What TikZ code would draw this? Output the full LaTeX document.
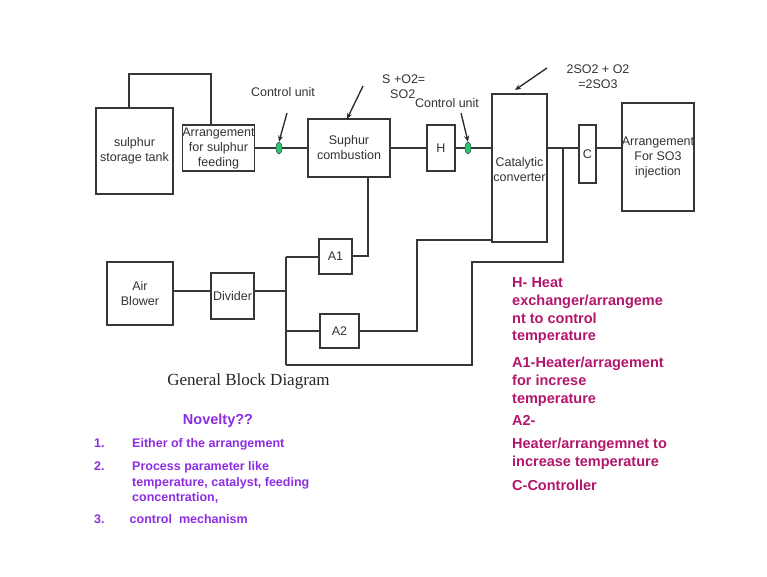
\documentclass[tikz,border=0pt]{standalone}
\usepackage{fontspec}
\setmainfont{Liberation Sans}
\newfontfamily\serifface{Liberation Serif}
\usetikzlibrary{arrows.meta}
\definecolor{lineclr}{RGB}{55,55,55}
\definecolor{pinktxt}{RGB}{178,22,108}
\definecolor{purptxt}{RGB}{140,45,225}
\definecolor{valveclr}{RGB}{40,200,110}
\tikzset{
  blk/.style={draw=lineclr, line width=1.4pt, inner sep=0pt, align=center,
    font=\fontsize{12.5}{15}\selectfont, text=black!80},
  wire/.style={draw=lineclr, line width=1.4pt},
  pointer/.style={draw=black!85, line width=1.3pt, -{Stealth[length=6pt,width=5pt]}},
  valve/.style={draw=black!70, fill=valveclr, ellipse, line width=0.6pt, minimum width=6pt, minimum height=12pt, inner sep=0pt},
  lbl/.style={font=\fontsize{12.5}{15}\selectfont, text=black!80, align=center, inner sep=0pt},
  pinkline/.style={font=\bfseries\fontsize{14.5}{18}\selectfont, text=pinktxt, anchor=base west, inner sep=0pt},
  purpline/.style={font=\bfseries\fontsize{12.5}{15.5}\selectfont, text=purptxt, anchor=base west, inner sep=0pt}
}
\usetikzlibrary{shapes.geometric}
\begin{document}
\begin{tikzpicture}[x=1pt,y=-1pt]
\useasboundingbox (0,0) rectangle (767,577);
% blocks
\node[blk, minimum width=77pt, minimum height=86pt] (tank) at (134.5,151) {sulphur\\storage tank};
\node[blk, minimum width=71pt, minimum height=46pt] (feed) at (218.5,148) {Arrangement\\for sulphur\\feeding};
\node[blk, minimum width=82pt, minimum height=58pt] (comb) at (349,148) {Suphur\\combustion};
\node[blk, minimum width=28pt, minimum height=46pt] (H) at (441,148) {H};
\node[blk, minimum width=55pt, minimum height=148pt] (cat) at (519.5,168) {};
\node[lbl] (catl) at (519.5,169.5) {Catalytic\\converter};
\node[blk, minimum width=17pt, minimum height=58pt] (C) at (587.5,154) {C};
\node[blk, minimum width=70pt, minimum height=108pt] (inj) at (658,157) {Arrangement\\For SO3\\injection};
\node[blk, minimum width=66pt, minimum height=63pt] (blow) at (140,293.5) {Air\\Blower};
\node[blk, minimum width=43pt, minimum height=46pt] (div) at (232.5,296) {Divider};
\node[blk, minimum width=33pt, minimum height=35pt] (A1) at (335.5,256.5) {A1};
\node[blk, minimum width=39pt, minimum height=34pt] (A2) at (339.5,331) {A2};
% valves
\node[valve] (v1) at (279,148) {};
\node[valve] (v2) at (468,148) {};
% coordinates
\coordinate (lt1) at (129,74);
\coordinate (lt2) at (211,74);
\coordinate (busT) at (286,257);
\coordinate (busM) at (286,291);
\coordinate (busA2) at (286,331);
\coordinate (busB) at (286,365);
\coordinate (a1r) at (368,256);
\coordinate (a2r) at (417,331);
\coordinate (a2u) at (417,240);
\coordinate (tap) at (563,148);
\coordinate (tapd) at (563,262);
\coordinate (tapl) at (472,262);
\coordinate (tapb) at (472,365);
% wires
\draw[wire] (tank.north -| lt1) |- (lt2) -- (feed.north -| lt2);
\draw[wire] (feed.east) -- (v1.west);
\draw[wire] (v1.east) -- (comb.west);
\draw[wire] (comb.east) -- (H.west);
\draw[wire] (H.east) -- (v2.west);
\draw[wire] (v2.east) -- (cat.west |- v2.east);
\draw[wire] (cat.east |- tap) -- (C.west |- tap);
\draw[wire] (C.east |- tap) -- (inj.west |- tap);
\draw[wire] (blow.east |- busM) -- (div.west |- busM);
\draw[wire] (div.east |- busM) -- (busM);
\draw[wire] (busT) -- (busB);
\draw[wire] (busT) -- (A1.west |- busT);
\draw[wire] (A1.east |- a1r) -- (a1r) -- (comb.south -| a1r);
\draw[wire] (busA2) -- (A2.west |- busA2);
\draw[wire] (A2.east |- a2r) -- (a2r) -- (a2u) -- (cat.west |- a2u);
\draw[wire] (tap) -- (tapd) -- (tapl) -- (tapb) -- (busB);
% pointers and labels
\node[lbl] (cu1) at (283,92) {Control unit};
\coordinate (p1s) at (287,113);
\draw[pointer] (p1s) -- (v1.north);
\node[lbl, align=left, anchor=west] (eq1) at (382,86.5) {S +O2=\\\hspace*{8pt}SO2};
\coordinate (p2s) at (363,86);
\draw[pointer] (p2s) -- (347,119);
\node[lbl] (cu2) at (447,103) {Control unit};
\coordinate (p3s) at (461,113);
\draw[pointer] (p3s) -- (v2.north);
\node[lbl] (eq2) at (598,77) {2SO2 + O2\\=2SO3};
\coordinate (p4s) at (547,68);
\draw[pointer] (p4s) -- (515,90);
% caption
\node[font=\serifface\fontsize{17}{20}\selectfont, text=black!85, inner sep=0pt] (cap) at (248.5,381) {General Block Diagram};
% legend
\node[pinkline] (h1) at (512,287) {H- Heat};
\node[pinkline] (h2) at (512,305) {exchanger/arrangeme};
\node[pinkline] (h3) at (512,323) {nt to control};
\node[pinkline] (h4) at (512,340.5) {temperature};
\node[pinkline] (a11) at (512,367) {A1-Heater/arragement};
\node[pinkline] (a12) at (512,385) {for increse};
\node[pinkline] (a13) at (512,403) {temperature};
\node[pinkline] (a21) at (512,425) {A2-};
\node[pinkline] (a22) at (512,448) {Heater/arrangemnet to};
\node[pinkline] (a23) at (512,466.5) {increase temperature};
\node[pinkline] (c1) at (512,490) {C-Controller};
% novelty
\node[font=\bfseries\fontsize{14.5}{17}\selectfont, text=purptxt, inner sep=0pt, anchor=base] (nov) at (218,424) {Novelty??};
\node[purpline] (n1) at (94,447) {1.};
\node[purpline] (t1) at (132,447) {Either of the arrangement};
\node[purpline] (n2) at (94,470.5) {2.};
\node[purpline] (t2) at (132,470.5) {Process parameter like};
\node[purpline] (t2b) at (132,486) {temperature, catalyst, feeding};
\node[purpline] (t2c) at (132,501.5) {concentration,};
\node[purpline] (n3) at (94,523.5) {3.};
\node[purpline] (t3) at (129.5,523.5) {control\ \ mechanism};
\end{tikzpicture}
\end{document}
